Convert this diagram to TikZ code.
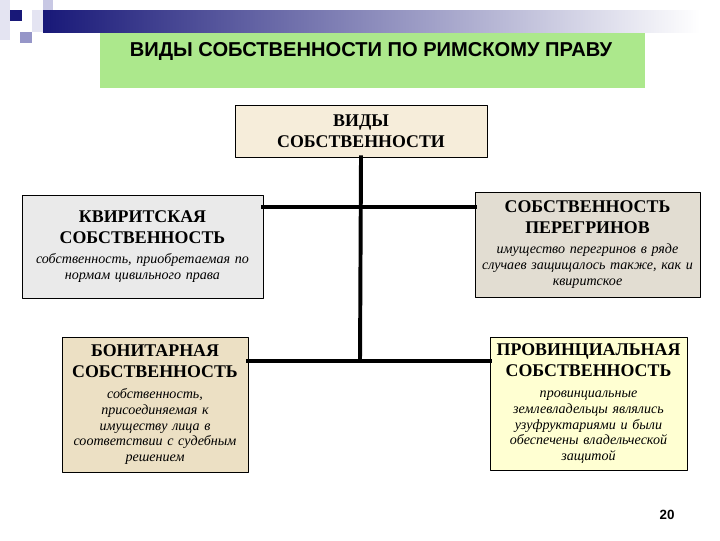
\documentclass[tikz,border=0pt]{standalone}
\usepackage{fontspec}
\setmainfont{Liberation Serif}
\newfontfamily\arialfont{Liberation Sans}
\usetikzlibrary{positioning}

\definecolor{navybar}{RGB}{24,24,120}
\definecolor{lilacA}{RGB}{228,228,242}
\definecolor{lilacB}{RGB}{200,200,228}
\definecolor{lilacC}{RGB}{150,150,200}
\definecolor{titlegreen}{RGB}{172,232,140}
\definecolor{beigebox}{RGB}{246,237,218}
\definecolor{greybox}{RGB}{234,234,234}
\definecolor{stonebox}{RGB}{226,221,210}
\definecolor{parchbox}{RGB}{236,224,196}
\definecolor{yellowbox}{RGB}{255,255,210}

\newcommand{\headfont}{\bfseries\fontsize{12.7}{14.8}\selectfont}
\newcommand{\descfont}{\itshape\fontsize{10}{11.2}\selectfont}

\begin{document}
\begin{tikzpicture}[x=0.025cm, y=-0.025cm, line cap=round, line join=round,
  box/.style={draw=black, line width=0.6pt, align=center, inner sep=0pt},
  conn/.style={line width=2.8pt, line cap=rect}]
  \def\px{0.025cm}

  \useasboundingbox (0,0) rectangle (720,540);

  % полоса и квадраты
  \fill[lilacA] (0,0) rectangle (10,40);
  \fill[lilacA] (32,10) rectangle (43,32);
  \fill[lilacB] (43,0) rectangle (53,21);
  \fill[lilacC] (20,32) rectangle (32,43);
  \fill[navybar] (10,10) rectangle (22,21);
  \shade[left color=navybar, middle color=navybar!35!white, right color=white]
    (43,10) rectangle (700,32);

  % заголовок
  \fill[titlegreen] (100,33) rectangle (645,88);
  \node[font=\arialfont\bfseries\fontsize{14.3}{17}\selectfont] (title) at (371,51)
    {ВИДЫ СОБСТВЕННОСТИ ПО РИМСКОМУ ПРАВУ};

  % верхний блок
  \node[box, fill=beigebox, minimum width=252*\px, minimum height=52*\px,
    text width=240*\px] (top) at (361,131)
    {\headfont ВИДЫ\\ СОБСТВЕННОСТИ\par};

  % первый ряд
  \node[box, fill=greybox, minimum width=241*\px, minimum height=103*\px,
    text width=238*\px] (kvir) at (142.5,246.5)
    {{\headfont КВИРИТСКАЯ\\ СОБСТВЕННОСТЬ\par}\vspace{3pt}
     {\descfont собственность, приобретаемая по\\ нормам цивильного права\par}};

  \node[box, fill=stonebox, minimum width=225*\px, minimum height=105*\px,
    text width=222*\px] (peregr) at (587.5,244.5)
    {{\headfont СОБСТВЕННОСТЬ\\ ПЕРЕГРИНОВ\par}\vspace{3pt}
     {\descfont имущество перегринов в ряде\\ случаев защищалось также, как и\\ квиритское\par}};

  % второй ряд
  \node[box, fill=parchbox, minimum width=186*\px, minimum height=135*\px,
    text width=183*\px] (bonit) at (155,404.5)
    {{\headfont БОНИТАРНАЯ\\ СОБСТВЕННОСТЬ\par}\vspace{4pt}
     {\descfont собственность,\\ присоединяемая к\\ имуществу лица в\\ соответствии с судебным\\ решением\par}};

  \node[box, fill=yellowbox, minimum width=197*\px, minimum height=133*\px,
    text width=194*\px] (provinc) at (588.5,403.5)
    {{\headfont ПРОВИНЦИАЛЬНАЯ\\ СОБСТВЕННОСТЬ\par}\vspace{4pt}
     {\descfont провинциальные\\ землевладельцы являлись\\ узуфруктариями и были\\ обеспечены владельческой\\ защитой\par}};

  % линии
  \coordinate (hubA) at (360,207);
  \coordinate (hubB) at (360,361);
  \draw[conn] (top.south) -- (hubB);
  \draw[conn] (kvir.east |- hubA) -- (peregr.west |- hubA);
  \draw[conn] (bonit.east |- hubB) -- (provinc.west |- hubB);

  % номер слайда
  \node[font=\arialfont\bfseries\fontsize{9.5}{11}\selectfont] (pagenum) at (667,515) {20};
\end{tikzpicture}
\end{document}
